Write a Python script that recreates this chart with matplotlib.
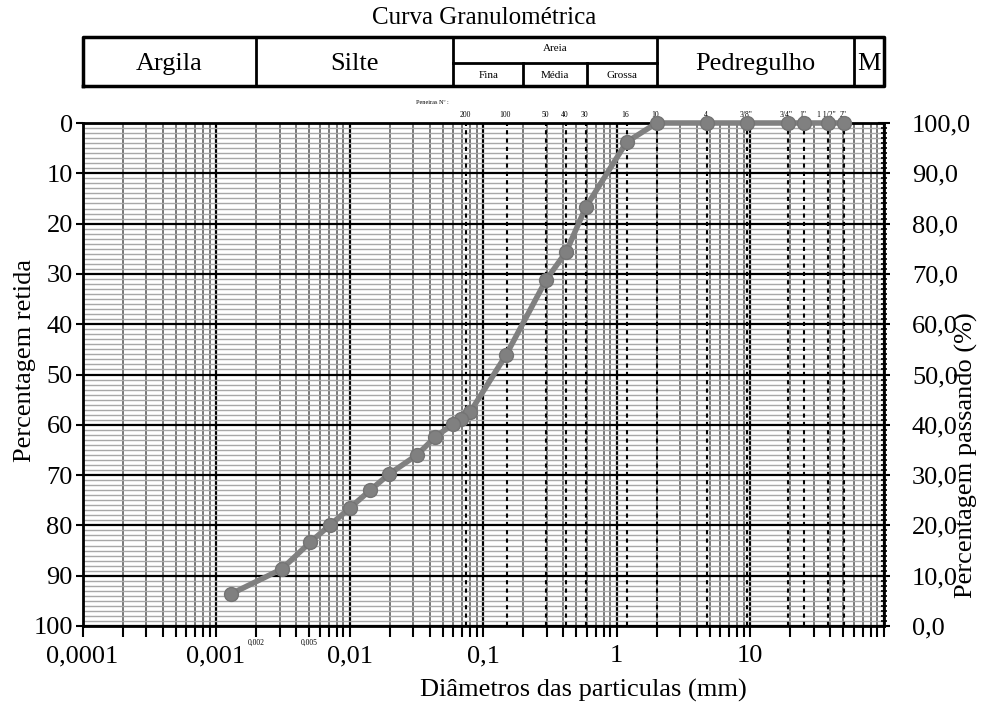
import matplotlib
matplotlib.use("Agg")
import matplotlib.pyplot as plt
from matplotlib.ticker import FixedLocator, NullFormatter, LogLocator, MultipleLocator

# ---- data -------------------------------------------------------------
diametro_mm = [50.8, 38.1, 25.4, 19.1, 9.52, 4.76, 2.0, 1.19, 0.59, 0.42,
               0.297, 0.149, 0.080, 0.068, 0.060, 0.044, 0.032, 0.0198,
               0.0143, 0.0101, 0.0071, 0.0051, 0.0031, 0.0013]
passando_pct = [100, 100, 100, 100, 100, 100, 100, 96.2, 83.3, 74.4,
                68.8, 53.9, 42.5, 41.2, 40.2, 37.6, 34.0, 30.2,
                27.0, 23.5, 20.0, 16.7, 11.3, 6.4]

peneiras_mm = [0.075, 0.15, 0.297, 0.42, 0.59, 1.19, 2.0, 4.76, 9.52,
               19.1, 25.4, 38.1, 50.8]
peneiras_rot = ["200", "100", "50", "40", "30", "16", "10", "4", '3/8"',
                '3/4"', '1"', '1 1/2"', '2"']

x_ticks = [1e-4, 1e-3, 1e-2, 1e-1, 1, 10, 100]
x_tick_rot = ["0,0001", "0,001", "0,01", "0,1", "1", "10", ""]
ret_ticks = list(range(0, 101, 10))
ret_rot = [str(v) for v in ret_ticks]
pas_ticks = list(range(0, 101, 10))
pas_rot = [f"{v},0" for v in pas_ticks]

faixas_lim = [1e-4, 0.002, 0.06, 2.0, 60.0, 100.0]
faixas_rot = ["Argila", "Silte", "Areia", "Pedregulho", "M"]
areia_lim = [0.06, 0.2, 0.6, 2.0]
areia_rot = ["Fina", "Média", "Grossa"]

# ---- figure -----------------------------------------------------------
plt.rcParams["font.family"] = ["Liberation Serif", "DejaVu Serif"]
fig = plt.figure(figsize=(9.86, 7.08), dpi=100)
L, R, B, T = 82.5 / 986, 883.5 / 986, 1 - 626 / 708, 1 - 123 / 708
ax = fig.add_axes([L, B, R - L, T - B])
ax.set_xscale("log")
ax.set_xlim(1e-4, 1e2)
ax.set_ylim(100, 0)

# grid
ax.xaxis.set_major_locator(FixedLocator(x_ticks))
ax.set_xticklabels(x_tick_rot)
ax.xaxis.set_minor_locator(LogLocator(base=10, subs=range(2, 10)))
ax.xaxis.set_minor_formatter(NullFormatter())
ax.set_yticks(ret_ticks)
ax.set_yticklabels(ret_rot)
ax.yaxis.set_minor_locator(MultipleLocator(1))
ax.grid(which="major", axis="x", color="black", lw=1.6)
ax.grid(which="minor", axis="x", color="#6e6e6e", lw=1.3)
ax.grid(which="major", axis="y", color="black", lw=1.6)
ax.grid(which="minor", axis="y", color="#a8a8a8", lw=1.0)
ax.set_axisbelow(True)

for d in peneiras_mm:
    ax.axvline(d, color="black", lw=1.5, ls=(0, (2, 2)), zorder=1.5)

ax.tick_params(axis="x", which="both", direction="out", length=8, width=1.5,
               labelsize=19, pad=6, top=False)
ax.tick_params(axis="y", which="major", direction="out", length=5, width=1.5,
               labelsize=19, pad=2)
ax.tick_params(axis="y", which="minor", length=0)
for s in ax.spines.values():
    s.set_linewidth(2)
ax.spines["right"].set_visible(False)

# right axis: percentage passing
ax2 = ax.twinx()
ax2.set_ylim(0, 100)
ax2.set_yticks(pas_ticks)
ax2.set_yticklabels(pas_rot)
ax2.yaxis.set_minor_locator(MultipleLocator(1))
ax2.tick_params(axis="y", which="major", direction="inout", length=9, width=1.5,
                labelsize=19, pad=16)
ax2.tick_params(axis="y", which="minor", direction="inout", length=5, width=1.2)
for s in ax2.spines.values():
    s.set_visible(False)
ax2.spines["right"].set_visible(True)
ax2.spines["right"].set_linewidth(2)

ax2.plot(diametro_mm, passando_pct, color="#808080", lw=4, marker="o",
         markersize=10, markerfacecolor="#808080", markeredgecolor="#747474",
         zorder=5, clip_on=False)

# sieve numbers along top edge
for d, r in zip(peneiras_mm, peneiras_rot):
    ax.text(d * 0.98, -0.8, r, fontsize=5.5, ha="center", va="bottom",
            color="black")
ax.text(0.042, -3.6, "Peneiras Nº :", fontsize=4.5, ha="center", va="bottom")

# small boundary marks under the axis
for v, r in [(0.002, "0,002"), (0.005, "0,005")]:
    ax.text(v, 102.5, r, fontsize=5.5, ha="center", va="top")

# axis titles
fig.text(25 / 986, 1 - 360 / 708, "Percentagem retida", rotation=90,
         fontsize=19, ha="center", va="center")
fig.text(966 / 986, 1 - 455 / 708, "Percentagem passando (%)", rotation=90,
         fontsize=19, ha="center", va="center")
fig.text(583 / 986, 1 - 690 / 708, "Diâmetros das particulas (mm)",
         fontsize=19, ha="center", va="center")
fig.text(484 / 986, 1 - 18 / 708, "Curva Granulométrica", fontsize=18,
         ha="center", va="center")

# ---- soil-classification header --------------------------------------
hB, hT = 1 - 86 / 708, 1 - 37 / 708
hax = fig.add_axes([L, hB, R - L, hT - hB])
hax.set_xscale("log")
hax.set_xlim(1e-4, 1e2)
hax.set_ylim(0, 1)
hax.axis("off")
hax.plot([1e-4, 1e2, 1e2, 1e-4, 1e-4], [0, 0, 1, 1, 0], color="black",
         lw=2.5, clip_on=False)
for v in faixas_lim[1:-1]:
    hax.plot([v, v], [0, 1], color="black", lw=2, clip_on=False)
for a, b, r in zip(faixas_lim[:-1], faixas_lim[1:], faixas_rot):
    xm = (a * b) ** 0.5
    if r == "Areia":
        hax.text(xm, 0.76, r, fontsize=8, ha="center", va="center")
    else:
        hax.text(xm, 0.45, r, fontsize=19, ha="center", va="center")
hax.plot([areia_lim[0], areia_lim[-1]], [0.47, 0.47], color="black", lw=2)
for v in areia_lim[1:-1]:
    hax.plot([v, v], [0, 0.47], color="black", lw=2)
for a, b, r in zip(areia_lim[:-1], areia_lim[1:], areia_rot):
    hax.text((a * b) ** 0.5, 0.22, r, fontsize=8, ha="center", va="center")

fig.savefig("out.png", dpi=100)
